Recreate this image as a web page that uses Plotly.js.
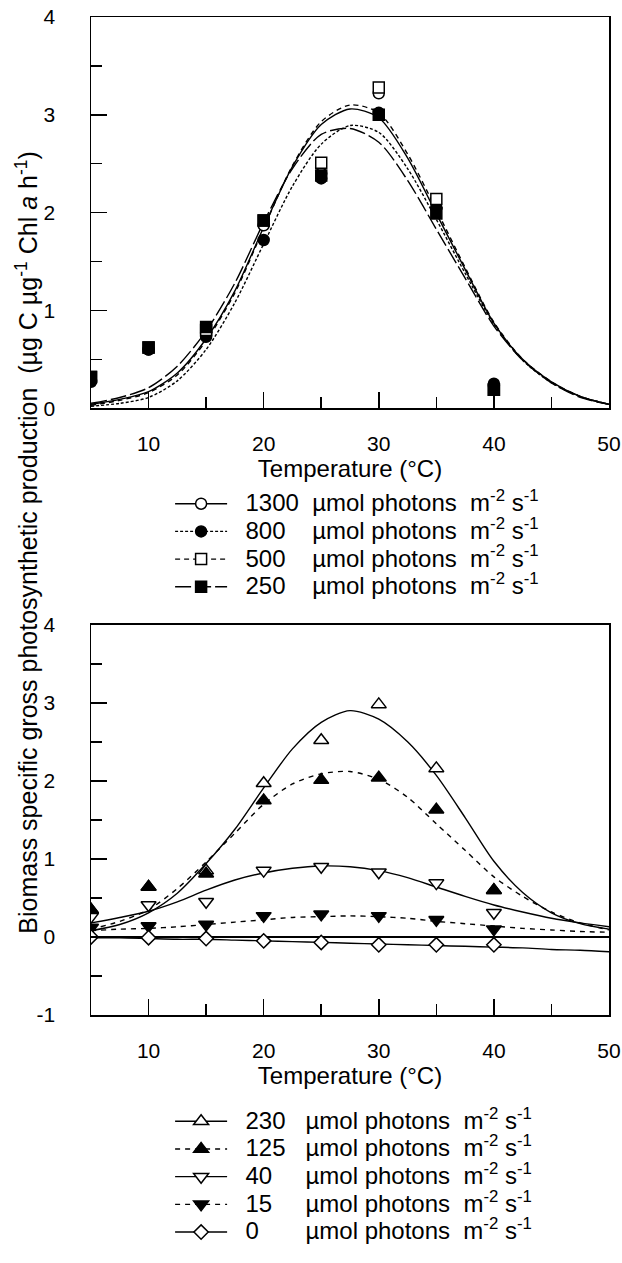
<!DOCTYPE html>
<html><head><meta charset="utf-8">
<script src="https://cdn.plot.ly/plotly-3.0.1.min.js"></script>
<style>html,body{margin:0;padding:0;background:#fff}</style>
</head><body>
<div id="chart" style="width:622px;height:1263px"></div>
<script>
// ---------- data ----------
const temps = [5, 10, 15, 20, 25, 30, 35, 40];
const fitTemps = [5, 7.5, 10, 12.5, 15, 17.5, 20, 22.5, 25, 27.5, 30, 32.5, 35, 37.5, 40, 42.5, 45, 47.5, 50];

// upper panel (irradiance, µmol photons m-2 s-1)
const topLabels = ['1300', '800', '500', '250'];
const obs1300 = [0.28, 0.60, 0.76, 1.87, 2.40, 3.22, 2.05, 0.23];
const obs800  = [0.27, 0.60, 0.73, 1.72, 2.35, 3.02, 2.05, 0.25];
const obs500  = [0.32, 0.62, 0.80, 1.92, 2.51, 3.28, 2.14, 0.19];
const obs250  = [0.32, 0.62, 0.83, 1.92, 2.38, 3.00, 1.99, 0.19];
const fit1300 = [0.04, 0.09, 0.17, 0.36, 0.71, 1.20, 1.85, 2.47, 2.90, 3.06, 2.97, 2.56, 1.99, 1.42, 0.87, 0.50, 0.27, 0.12, 0.04];
const fit800  = [0.02, 0.05, 0.11, 0.28, 0.60, 1.08, 1.68, 2.27, 2.70, 2.89, 2.82, 2.45, 1.93, 1.38, 0.86, 0.49, 0.26, 0.12, 0.04];
const fit500  = [0.03, 0.08, 0.16, 0.34, 0.69, 1.18, 1.84, 2.48, 2.93, 3.10, 3.02, 2.60, 2.03, 1.44, 0.88, 0.50, 0.27, 0.12, 0.04];
const fit250  = [0.05, 0.11, 0.21, 0.43, 0.79, 1.28, 1.90, 2.45, 2.80, 2.86, 2.72, 2.33, 1.83, 1.33, 0.84, 0.49, 0.26, 0.11, 0.04];

// lower panel
const bottomLabels = ['230', '125', '40', '15', '0'];
const obs230 = [0.35, 0.64, 0.85, 1.97, 2.52, 2.98, 2.16, 0.60];
const obs125 = [0.35, 0.64, 0.81, 1.75, 2.01, 2.04, 1.63, 0.60];
const obs40  = [0.26, 0.41, 0.45, 0.85, 0.90, 0.83, 0.69, 0.31];
const obs15  = [0.12, 0.14, 0.16, 0.27, 0.29, 0.27, 0.22, 0.10];
const obs0   = [0.00, -0.01, -0.02, -0.05, -0.07, -0.10, -0.10, -0.10];
const fit230 = [0.08, 0.16, 0.31, 0.56, 0.94, 1.38, 1.91, 2.41, 2.75, 2.90, 2.79, 2.50, 2.07, 1.53, 0.97, 0.57, 0.31, 0.17, 0.10];
const fit125 = [0.10, 0.20, 0.35, 0.62, 0.96, 1.33, 1.70, 1.96, 2.09, 2.12, 2.02, 1.79, 1.45, 1.11, 0.77, 0.52, 0.32, 0.18, 0.09];
const fit40  = [0.18, 0.25, 0.33, 0.45, 0.60, 0.73, 0.82, 0.88, 0.91, 0.90, 0.85, 0.76, 0.64, 0.52, 0.41, 0.32, 0.24, 0.18, 0.13];
const fit15  = [0.08, 0.10, 0.11, 0.13, 0.16, 0.19, 0.22, 0.25, 0.26, 0.27, 0.26, 0.24, 0.20, 0.17, 0.14, 0.11, 0.09, 0.07, 0.06];
const fit0   = [-0.01, -0.01, -0.02, -0.03, -0.03, -0.04, -0.05, -0.06, -0.07, -0.08, -0.09, -0.10, -0.11, -0.12, -0.13, -0.14, -0.16, -0.17, -0.19];

// ticks
const xTickVals = [10, 20, 30, 40, 50];
const xMinorVals = [15, 25, 35, 45];
const yTopTicks = [0, 1, 2, 3, 4];
const yBottomTicks = [-1, 0, 1, 2, 3, 4];

// ---------- styling ----------
const FONT = 'Liberation Sans, Arial, Helvetica, sans-serif';
const NB = '\u00a0';
const unitText = 'µmol photons' + NB + NB + 'm<sup>-2</sup> s<sup>-1</sup>';
function legendName(label, pad) {
  return '<span style="font-size:24px">' + NB + NB + label + NB.repeat(pad) + unitText + '</span>';
}
function gapped(arr) { const out = []; arr.forEach(v => { out.push(v); out.push(null); }); return out; }

const topObs = [obs1300, obs800, obs500, obs250];
const topFit = [fit1300, fit800, fit500, fit250];
const topSym = ['circle', 'circle', 'square', 'square'];
const topFill = ['white', 'black', 'white', 'black'];
const topDash = ['solid', '3px,2px', '5px,4px', '16px,4px'];
const topPad = [2, 4, 4, 4];

const botObs = [obs230, obs125, obs40, obs15, obs0];
const botFit = [fit230, fit125, fit40, fit15, fit0];
const botSym = ['triangle-up', 'triangle-up', 'triangle-down', 'triangle-down', 'diamond'];
const botFill = ['white', 'black', 'white', 'black', 'white'];
const botDash = ['solid', '5px,5px', 'solid', '5px,5px', 'solid'];
const botPad = [3, 3, 5, 5, 7];
const botSize = [13, 13, 13, 13, 11];

const traces = [];
topFit.forEach((f, i) => traces.push({
  x: fitTemps, y: f, xaxis: 'x', yaxis: 'y', mode: 'lines', showlegend: false, hoverinfo: 'skip',
  line: {color: 'black', width: 1.4, dash: topDash[i], shape: 'spline', smoothing: 0.8}
}));
topObs.forEach((o, i) => traces.push({
  x: gapped(temps), y: gapped(o), xaxis: 'x', yaxis: 'y', mode: 'lines+markers', connectgaps: false,
  name: legendName(topLabels[i], topPad[i]), legend: 'legend',
  line: {color: 'black', width: 1.4, dash: topDash[i]},
  marker: {symbol: topSym[i], size: 11, color: topFill[i], line: {color: 'black', width: 1.5}}
}));
botFit.forEach((f, i) => traces.push({
  x: fitTemps, y: f, xaxis: 'x2', yaxis: 'y2', mode: 'lines', showlegend: false, hoverinfo: 'skip',
  line: {color: 'black', width: 1.4, dash: botDash[i], shape: 'spline', smoothing: 0.8}
}));
botObs.forEach((o, i) => traces.push({
  x: gapped(temps), y: gapped(o), xaxis: 'x2', yaxis: 'y2', mode: 'lines+markers', connectgaps: false,
  name: legendName(bottomLabels[i], botPad[i]), legend: 'legend2',
  line: {color: 'black', width: 1.4, dash: botDash[i]},
  marker: {symbol: botSym[i], size: botSize[i], color: botFill[i], line: {color: 'black', width: 1.5}}
}));

const tickFont = {family: FONT, size: 21, color: 'black'};
function xAxis(anchor) {
  return {
    anchor: anchor, range: [5, 50], tickmode: 'array', tickvals: xTickVals, ticktext: xTickVals.map(String),
    ticks: 'inside', ticklen: 16, tickwidth: 1.5, tickcolor: 'black',
    minor: {tickmode: 'array', tickvals: xMinorVals, ticks: 'inside', ticklen: 11, tickwidth: 1.5, tickcolor: 'black', showgrid: false},
    showline: true, mirror: true, linecolor: 'black', linewidth: 1.5,
    showgrid: false, zeroline: false, tickfont: tickFont, ticklabelstandoff: 16,
    title: {text: 'Temperature (°C)', font: {family: FONT, size: 24, color: 'black'}, standoff: 5},
    automargin: false
  };
}
function yAxis(anchor, domain, range, ticks, zl) {
  const minorVals = [];
  for (let k = 0; k < ticks.length - 1; k++) minorVals.push((ticks[k] + ticks[k + 1]) / 2);
  return {
    anchor: anchor, domain: domain, range: range, tickmode: 'array', tickvals: ticks, ticktext: ticks.map(String),
    ticks: 'inside', ticklen: 16, tickwidth: 1.5, tickcolor: 'black',
    minor: {tickmode: 'array', tickvals: minorVals, ticks: 'inside', ticklen: 11, tickwidth: 1.5, tickcolor: 'black', showgrid: false},
    showline: true, mirror: true, linecolor: 'black', linewidth: 1.5,
    showgrid: false, zeroline: zl, zerolinecolor: 'black', zerolinewidth: 1.4,
    tickfont: tickFont, ticklabelstandoff: 30, automargin: false
  };
}

const legendFont = {family: FONT, size: 19, color: 'black'};
const layout = {
  width: 622, height: 1263,
  margin: {l: 91, r: 13, t: 17, b: 233},
  paper_bgcolor: 'white', plot_bgcolor: 'white',
  font: {family: FONT, color: 'black'},
  showlegend: true,
  xaxis: xAxis('y'),
  yaxis: yAxis('x', [0.608, 1], [0, 4], yTopTicks, false),
  xaxis2: xAxis('y2'),
  yaxis2: yAxis('x2', [0, 0.391], [-1, 4], yBottomTicks, true),
  legend: {x: 0.1527, xanchor: 'left', y: 0.5312, yanchor: 'top', bgcolor: 'rgba(0,0,0,0)',
           font: legendFont, itemwidth: 52, tracegroupgap: 0, traceorder: 'normal'},
  legend2: {x: 0.1527, xanchor: 'left', y: -0.0876, yanchor: 'top', bgcolor: 'rgba(0,0,0,0)',
            font: legendFont, itemwidth: 52, tracegroupgap: 0, traceorder: 'normal'},
  annotations: [{
    text: 'Biomass specific gross photosynthetic production' + NB + NB + '(µg C µg<sup>-1</sup> Chl <i>a</i> h<sup>-1</sup>)',
    xref: 'paper', yref: 'paper', x: -0.124, y: 0.474, xanchor: 'center', yanchor: 'middle',
    textangle: -90, showarrow: false, font: {family: FONT, size: 25, color: 'black'}
  }]
};

Plotly.newPlot('chart', traces, layout, {staticPlot: true, displayModeBar: false});
</script>
</body></html>
